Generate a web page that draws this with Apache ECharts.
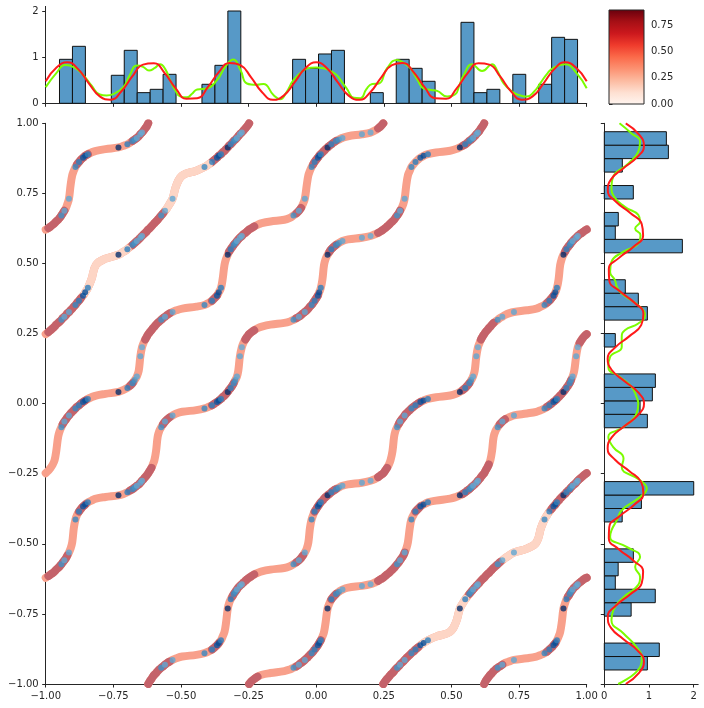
<!DOCTYPE html>
<html>
<head>
<meta charset="utf-8">
<script src="https://cdn.jsdelivr.net/npm/echarts/dist/echarts.min.js"></script>
<style>html,body{margin:0;padding:0;background:#fff}#chart{width:704px;height:708px}</style>
</head>
<body>
<div id="chart"></div>
<script>
// quantiles of the marginal density at u = 0, 0.005, ..., 1
var quantiles = [
    -1.000,-0.990,-0.982,-0.974,-0.967,-0.961,-0.954,-0.948,-0.942,-0.937,
    -0.931,-0.925,-0.920,-0.914,-0.908,-0.902,-0.896,-0.890,-0.884,-0.877,
    -0.870,-0.862,-0.854,-0.844,-0.831,-0.814,-0.779,-0.731,-0.712,-0.698,
    -0.688,-0.679,-0.671,-0.663,-0.656,-0.650,-0.644,-0.638,-0.632,-0.626,
    -0.621,-0.615,-0.609,-0.604,-0.598,-0.592,-0.586,-0.580,-0.573,-0.566,
    -0.559,-0.551,-0.542,-0.531,-0.517,-0.495,-0.443,-0.413,-0.397,-0.385,
    -0.376,-0.367,-0.360,-0.352,-0.346,-0.339,-0.333,-0.327,-0.322,-0.316,
    -0.310,-0.305,-0.299,-0.293,-0.288,-0.282,-0.275,-0.269,-0.262,-0.255,
    -0.248,-0.239,-0.229,-0.217,-0.201,-0.169,-0.118,-0.097,-0.084,-0.073,
    -0.064,-0.056,-0.049,-0.042,-0.035,-0.029,-0.023,-0.017,-0.011,-0.006,
     0.000, 0.006, 0.011, 0.017, 0.023, 0.029, 0.035, 0.042, 0.049, 0.056,
     0.064, 0.073, 0.084, 0.097, 0.118, 0.169, 0.201, 0.217, 0.229, 0.239,
     0.248, 0.255, 0.262, 0.269, 0.275, 0.282, 0.288, 0.293, 0.299, 0.305,
     0.310, 0.316, 0.322, 0.327, 0.333, 0.339, 0.346, 0.352, 0.360, 0.367,
     0.376, 0.385, 0.397, 0.413, 0.443, 0.495, 0.517, 0.531, 0.542, 0.551,
     0.559, 0.566, 0.573, 0.580, 0.586, 0.592, 0.598, 0.604, 0.609, 0.615,
     0.621, 0.626, 0.632, 0.638, 0.644, 0.650, 0.656, 0.663, 0.671, 0.679,
     0.688, 0.698, 0.712, 0.731, 0.779, 0.814, 0.831, 0.844, 0.854, 0.862,
     0.870, 0.877, 0.884, 0.890, 0.896, 0.902, 0.908, 0.914, 0.920, 0.925,
     0.931, 0.937, 0.942, 0.948, 0.954, 0.961, 0.967, 0.974, 0.982, 0.990,
     1.000
];
// the four curves: y-quantile index = x-quantile index + shift (0.2, 0.4, 0.6, 0.8)
var curveShifts = [40, 80, 120, 160];
// darker and paler stretches of each curve, as quantile index ranges
var darkRuns = {
    40: [[1,12],[19,22],[30,42],[49,52],[59,71],[78,82],[89,101],[108,111],[118,130],[148,170],[178,182],[190,200]],
    80: [[9,22],[30,31],[38,52],[59,61],[68,82],[89,91],[98,111],[118,140],[151,169],[180,200]],
    120: [[1,20],[31,49],[59,83],[89,103],[109,111],[118,133],[139,141],[148,163],[169,171],[178,192],[197,200]],
    160: [[1,10],[18,23],[31,52],[59,62],[70,82],[89,92],[99,111],[118,122],[129,141],[148,151],[158,166],[178,181],[188,200]]
};
var lightRuns = {
    80: [[142,149],[171,178]],
    120: [[22,29],[51,58]]
};
// sample points: quantile index (repeats every 40) and blue shade
var sampleSteps = [8, 10, 13, 17, 19, 21, 22, 23, 27, 29, 31, 32, 33, 35, 36];
var sampleShade = [0.5, 0.38, 0.38, 0.55, 0.6, 0.8, 0.85, 0.6, 1, 0.6, 0.55, 0.5, 0.38, 0.38, 0.35];

// marginal histograms (density)
var topBinStart = -0.949, topBinWidth = 0.04788;
var topHeights = [0.953,1.235,0,0,0.607,1.148,0.231,0.303,0.628,0,0,0.412,0.823,2.0,0,0,0,0,0.953,0.758,
                  1.069,1.148,0,0,0.231,0,0.953,0.758,0.477,0,0,1.755,0.231,0.303,0,0.628,0,0.412,1.43,1.386];
var rightBinStart = -0.950, rightBinWidth = 0.048;
var rightHeights = [0.963,1.23,0,0,0.60,1.14,0.246,0.31,0.65,0,0,0.40,0.83,2.0,0,0,0,0,0.963,0.80,
                    1.075,1.142,0,0,0.246,0,0.963,0.761,0.47,0,0,1.746,0.246,0.313,0,0.649,0,0.403,1.433,1.388];

// red density curve (same on both margins)
var pdfGrid = [-1,-0.96,-0.92,-0.88,-0.84,-0.8,-0.76,-0.72,-0.68,-0.64,-0.6,-0.56,-0.52,-0.48,-0.44,-0.4,-0.36,
               -0.32,-0.28,-0.24,-0.2,-0.16,-0.12,-0.08,-0.04,0,0.04,0.08,0.12,0.16,0.2,0.24,0.28,0.32,0.36,
               0.4,0.44,0.48,0.52,0.56,0.6,0.64,0.68,0.72,0.76,0.8,0.84,0.88,0.92,0.96,1];
var pdfValues = [0.480,0.777,0.887,0.740,0.429,0.150,0.079,0.261,0.581,0.838,0.868,0.654,0.330,0.101,0.111,0.354,0.677,
                 0.875,0.825,0.556,0.240,0.075,0.166,0.454,0.759,0.888,0.759,0.454,0.166,0.075,0.240,0.556,0.825,
                 0.875,0.677,0.354,0.111,0.101,0.330,0.654,0.868,0.838,0.581,0.261,0.079,0.150,0.429,0.740,0.887,0.777,0.480];

// green sample KDE, top margin
var kdeTopX = [-1,-0.96,-0.928,-0.895,-0.861,-0.83,-0.8,-0.775,-0.75,-0.713,-0.69,-0.663,-0.64,-0.618,-0.598,-0.577,-0.558,
               -0.54,-0.52,-0.503,-0.478,-0.46,-0.44,-0.404,-0.367,-0.335,-0.306,-0.28,-0.256,-0.22,-0.195,-0.158,-0.133,
               -0.11,-0.084,-0.05,-0.022,0,0.027,0.05,0.076,0.1,0.113,0.139,0.164,0.185,0.207,0.232,0.262,0.299,0.325,
               0.348,0.375,0.398,0.425,0.447,0.484,0.514,0.53,0.545,0.576,0.613,0.65,0.67,0.693,0.73,0.755,0.779,0.805,
               0.828,0.855,0.877,0.92,0.963,1];
var kdeTopY = [0.35,0.66,0.83,0.78,0.61,0.38,0.19,0.17,0.2,0.35,0.6,0.82,0.79,0.71,0.76,0.845,0.74,
               0.5,0.27,0.15,0.13,0.2,0.3,0.32,0.5,0.8,0.95,0.72,0.43,0.40,0.42,0.18,0.087,
               0.24,0.5,0.7,0.77,0.775,0.76,0.71,0.61,0.42,0.32,0.12,0.11,0.3,0.42,0.43,0.76,0.94,0.87,
               0.76,0.5,0.32,0.29,0.27,0.145,0.195,0.4,0.61,0.845,0.70,0.845,0.7,0.43,0.23,0.17,0.145,0.25,
               0.43,0.65,0.77,0.845,0.65,0.325];
// green sample KDE, right margin
var kdeRightY = [1,0.964,0.935,0.899,0.857,0.81,0.774,0.738,0.702,0.673,0.649,0.625,0.601,0.571,0.542,0.506,0.47,0.44,
                 0.417,0.393,0.345,0.315,0.286,0.262,0.238,0.202,0.167,0.131,0.095,0.06,0.024,0,-0.036,-0.083,-0.119,
                 -0.155,-0.196,-0.226,-0.273,-0.303,-0.333,-0.38,-0.416,-0.452,-0.476,-0.511,-0.547,-0.583,-0.618,
                 -0.654,-0.69,-0.737,-0.773,-0.82,-0.868,-0.91,-0.94,-1];
var kdeRightX = [0.34,0.61,0.80,0.76,0.54,0.2,0.16,0.22,0.46,0.76,0.80,0.69,0.81,0.76,0.43,0.16,0.13,0.24,
                 0.28,0.39,0.8,0.91,0.76,0.46,0.39,0.39,0.13,0.09,0.35,0.61,0.72,0.76,0.72,0.43,0.09,
                 0.2,0.43,0.39,0.8,0.95,0.8,0.39,0.28,0.16,0.13,0.5,0.8,0.69,0.8,
                 0.72,0.43,0.2,0.16,0.43,0.72,0.84,0.8,0.31];

var colorbarMax = 0.896;
var colorbarTicks = [0, 0.25, 0.5, 0.75];

var redsStops = ['#fff5f0','#fee0d2','#fcbba1','#fc9272','#fb6a4a','#ef3b2c','#cb181d','#a50f15','#67000d'];
var bluesStops = ['#c6dbef','#9ecae1','#6baed6','#4292c6','#2171b5','#08519c','#08306b'];

function hexToRgb(h) { return [parseInt(h.substr(1,2),16), parseInt(h.substr(3,2),16), parseInt(h.substr(5,2),16)]; }
function blues(t) {
    var p = t * (bluesStops.length - 1), i = Math.min(Math.floor(p), bluesStops.length - 2), f = p - i;
    var a = hexToRgb(bluesStops[i]), b = hexToRgb(bluesStops[i + 1]);
    return 'rgb(' + Math.round(a[0] + (b[0]-a[0])*f) + ',' + Math.round(a[1] + (b[1]-a[1])*f) + ',' + Math.round(a[2] + (b[2]-a[2])*f) + ')';
}

var font = {fontFamily: 'DejaVu Sans', fontSize: 10, color: '#262626'};
var spine = {show: true, onZero: false, lineStyle: {color: '#262626', width: 1}};
var tick = {show: true, length: 3.5, lineStyle: {color: '#262626', width: 1}};
function fmt2(v) { return (v < 0 ? '\u2212' : '') + Math.abs(v).toFixed(2); }

// pieces of one curve between two quantile indices (split where it wraps top -> bottom)
function curvePieces(shift, k0, k1) {
    var cut = 200 - shift, out = [], a, k;
    if (k0 < cut) {
        a = [];
        for (k = k0; k <= Math.min(k1, cut); k++) a.push([quantiles[k], quantiles[k + shift]]);
        out.push(a);
    }
    if (k1 > cut) {
        a = [];
        for (k = Math.max(k0, cut); k <= k1; k++) a.push([quantiles[k], quantiles[k + shift - 200]]);
        out.push(a);
    }
    return out;
}

var series = [];

function addCurve(data, color, z) {
    series.push({
        type: 'line', xAxisIndex: 0, yAxisIndex: 0, data: data, smooth: 0.4, showSymbol: false,
        silent: true, z: z, lineStyle: {color: color, width: 8, cap: 'round', join: 'round'}
    });
}

curveShifts.forEach(function (s) {
    curvePieces(s, 0, 200).forEach(function (p) { addCurve(p, '#f8a08b', 2); });
});
curveShifts.forEach(function (s) {
    (darkRuns[s] || []).forEach(function (r) {
        curvePieces(s, r[0], r[1]).forEach(function (p) { addCurve(p, '#c4626a', 3); });
    });
    (lightRuns[s] || []).forEach(function (r) {
        curvePieces(s, r[0], r[1]).forEach(function (p) { addCurve(p, '#fdd5c5', 3); });
    });
});

var dots = [];
sampleSteps.forEach(function (b, i) {
    for (var j = 0; j < 5; j++) {
        var kx = b + 40 * j;
        curveShifts.forEach(function (s) {
            dots.push({value: [quantiles[kx], quantiles[(kx + s) % 200]], itemStyle: {color: blues(sampleShade[i])}});
        });
    }
});
series.push({
    type: 'scatter', xAxisIndex: 0, yAxisIndex: 0, data: dots, symbolSize: 6, silent: true, z: 4,
    itemStyle: {opacity: 0.8}
});

// histograms
var topBars = [], rightBars = [];
topHeights.forEach(function (h, i) {
    if (h > 0) topBars.push([topBinStart + i * topBinWidth, topBinStart + (i + 1) * topBinWidth, h]);
});
rightHeights.forEach(function (h, i) {
    if (h > 0) rightBars.push([rightBinStart + i * rightBinWidth, rightBinStart + (i + 1) * rightBinWidth, h]);
});
var barStyle = {fill: '#5799c7', stroke: '#111', lineWidth: 1};
series.push({
    type: 'custom', xAxisIndex: 1, yAxisIndex: 1, data: topBars, silent: true, z: 2,
    encode: {x: [0, 1], y: 2},
    renderItem: function (params, api) {
        var p0 = api.coord([api.value(0), api.value(2)]), p1 = api.coord([api.value(1), 0]);
        return {type: 'rect', shape: {x: p0[0], y: p0[1], width: p1[0] - p0[0], height: p1[1] - p0[1]}, style: barStyle};
    }
});
series.push({
    type: 'custom', xAxisIndex: 2, yAxisIndex: 2, data: rightBars, silent: true, z: 2,
    encode: {y: [0, 1], x: 2},
    renderItem: function (params, api) {
        var p0 = api.coord([api.value(2), api.value(1)]), p1 = api.coord([0, api.value(0)]);
        return {type: 'rect', shape: {x: p1[0], y: p0[1], width: p0[0] - p1[0], height: p1[1] - p0[1]}, style: barStyle};
    }
});

// KDE lines
function kdeLine(data, xi, color, z) {
    return {type: 'line', xAxisIndex: xi, yAxisIndex: xi, data: data, smooth: 0.5, showSymbol: false, silent: true, z: z,
            lineStyle: {color: color, width: 2}};
}
series.push(kdeLine(kdeTopX.map(function (x, i) { return [x, kdeTopY[i]]; }), 1, '#7cfc00', 3));
series.push(kdeLine(pdfGrid.map(function (x, i) { return [x, pdfValues[i]]; }), 1, '#ff1a1a', 4));
series.push(kdeLine(kdeRightY.map(function (y, i) { return [kdeRightX[i], y]; }), 2, '#7cfc00', 3));
series.push(kdeLine(pdfGrid.map(function (y, i) { return [pdfValues[i], y]; }), 2, '#ff1a1a', 4));

// colorbar
series.push({
    type: 'custom', xAxisIndex: 3, yAxisIndex: 3, data: [[1, colorbarMax]], silent: true,
    renderItem: function (params, api) {
        var p0 = api.coord([0, colorbarMax]), p1 = api.coord([1, 0]);
        var stops = redsStops.map(function (c, i) { return {offset: i / (redsStops.length - 1), color: c}; });
        return {type: 'rect', shape: {x: p0[0], y: p0[1], width: p1[0] - p0[0], height: p1[1] - p0[1]},
                style: {fill: new echarts.graphic.LinearGradient(0, 1, 0, 0, stops), stroke: '#262626', lineWidth: 1}};
    }
});

var chart = echarts.init(document.getElementById('chart'), null, {renderer: 'canvas'});
chart.setOption({
    animation: false,
    backgroundColor: '#fff',
    grid: [
        {left: 45.7, top: 123.3, width: 541, height: 560.7, outerBoundsMode: 'none'},
        {left: 45.7, top: 6.4, width: 541, height: 96.9, outerBoundsMode: 'none'},
        {left: 604.3, top: 123.3, width: 93.9, height: 560.7, outerBoundsMode: 'none'},
        {left: 609, top: 10, width: 35, height: 94, outerBoundsMode: 'none'}
    ],
    xAxis: [
        {type: 'value', gridIndex: 0, min: -1, max: 1, interval: 0.25, axisLine: spine, axisTick: tick,
         splitLine: {show: false}, axisLabel: Object.assign({margin: 7, formatter: fmt2}, font)},
        {type: 'value', gridIndex: 1, min: -1, max: 1, interval: 0.25, axisLine: spine, axisTick: tick,
         splitLine: {show: false}, axisLabel: {show: false}},
        {type: 'value', gridIndex: 2, min: 0, max: 2.1, axisLine: spine,
         axisTick: Object.assign({customValues: [0, 1, 2]}, tick), splitLine: {show: false},
         axisLabel: Object.assign({margin: 7, customValues: [0, 1, 2]}, font)},
        {type: 'value', gridIndex: 3, min: 0, max: 1, show: false}
    ],
    yAxis: [
        {type: 'value', gridIndex: 0, min: -1, max: 1, interval: 0.25, axisLine: spine, axisTick: tick,
         splitLine: {show: false}, axisLabel: Object.assign({margin: 7, formatter: fmt2}, font)},
        {type: 'value', gridIndex: 1, min: 0, max: 2.1, axisLine: spine,
         axisTick: Object.assign({customValues: [0, 1, 2]}, tick), splitLine: {show: false},
         axisLabel: Object.assign({margin: 7, customValues: [0, 1, 2]}, font)},
        {type: 'value', gridIndex: 2, min: -1, max: 1, interval: 0.25, axisLine: spine, axisTick: tick,
         splitLine: {show: false}, axisLabel: {show: false}},
        {type: 'value', gridIndex: 3, min: 0, max: colorbarMax, position: 'right', axisLine: {show: false},
         axisTick: Object.assign({customValues: colorbarTicks}, tick), splitLine: {show: false},
         axisLabel: Object.assign({margin: 7, customValues: colorbarTicks, formatter: function (v) { return v.toFixed(2); }}, font)}
    ],
    series: series
});
</script>
</body>
</html>
